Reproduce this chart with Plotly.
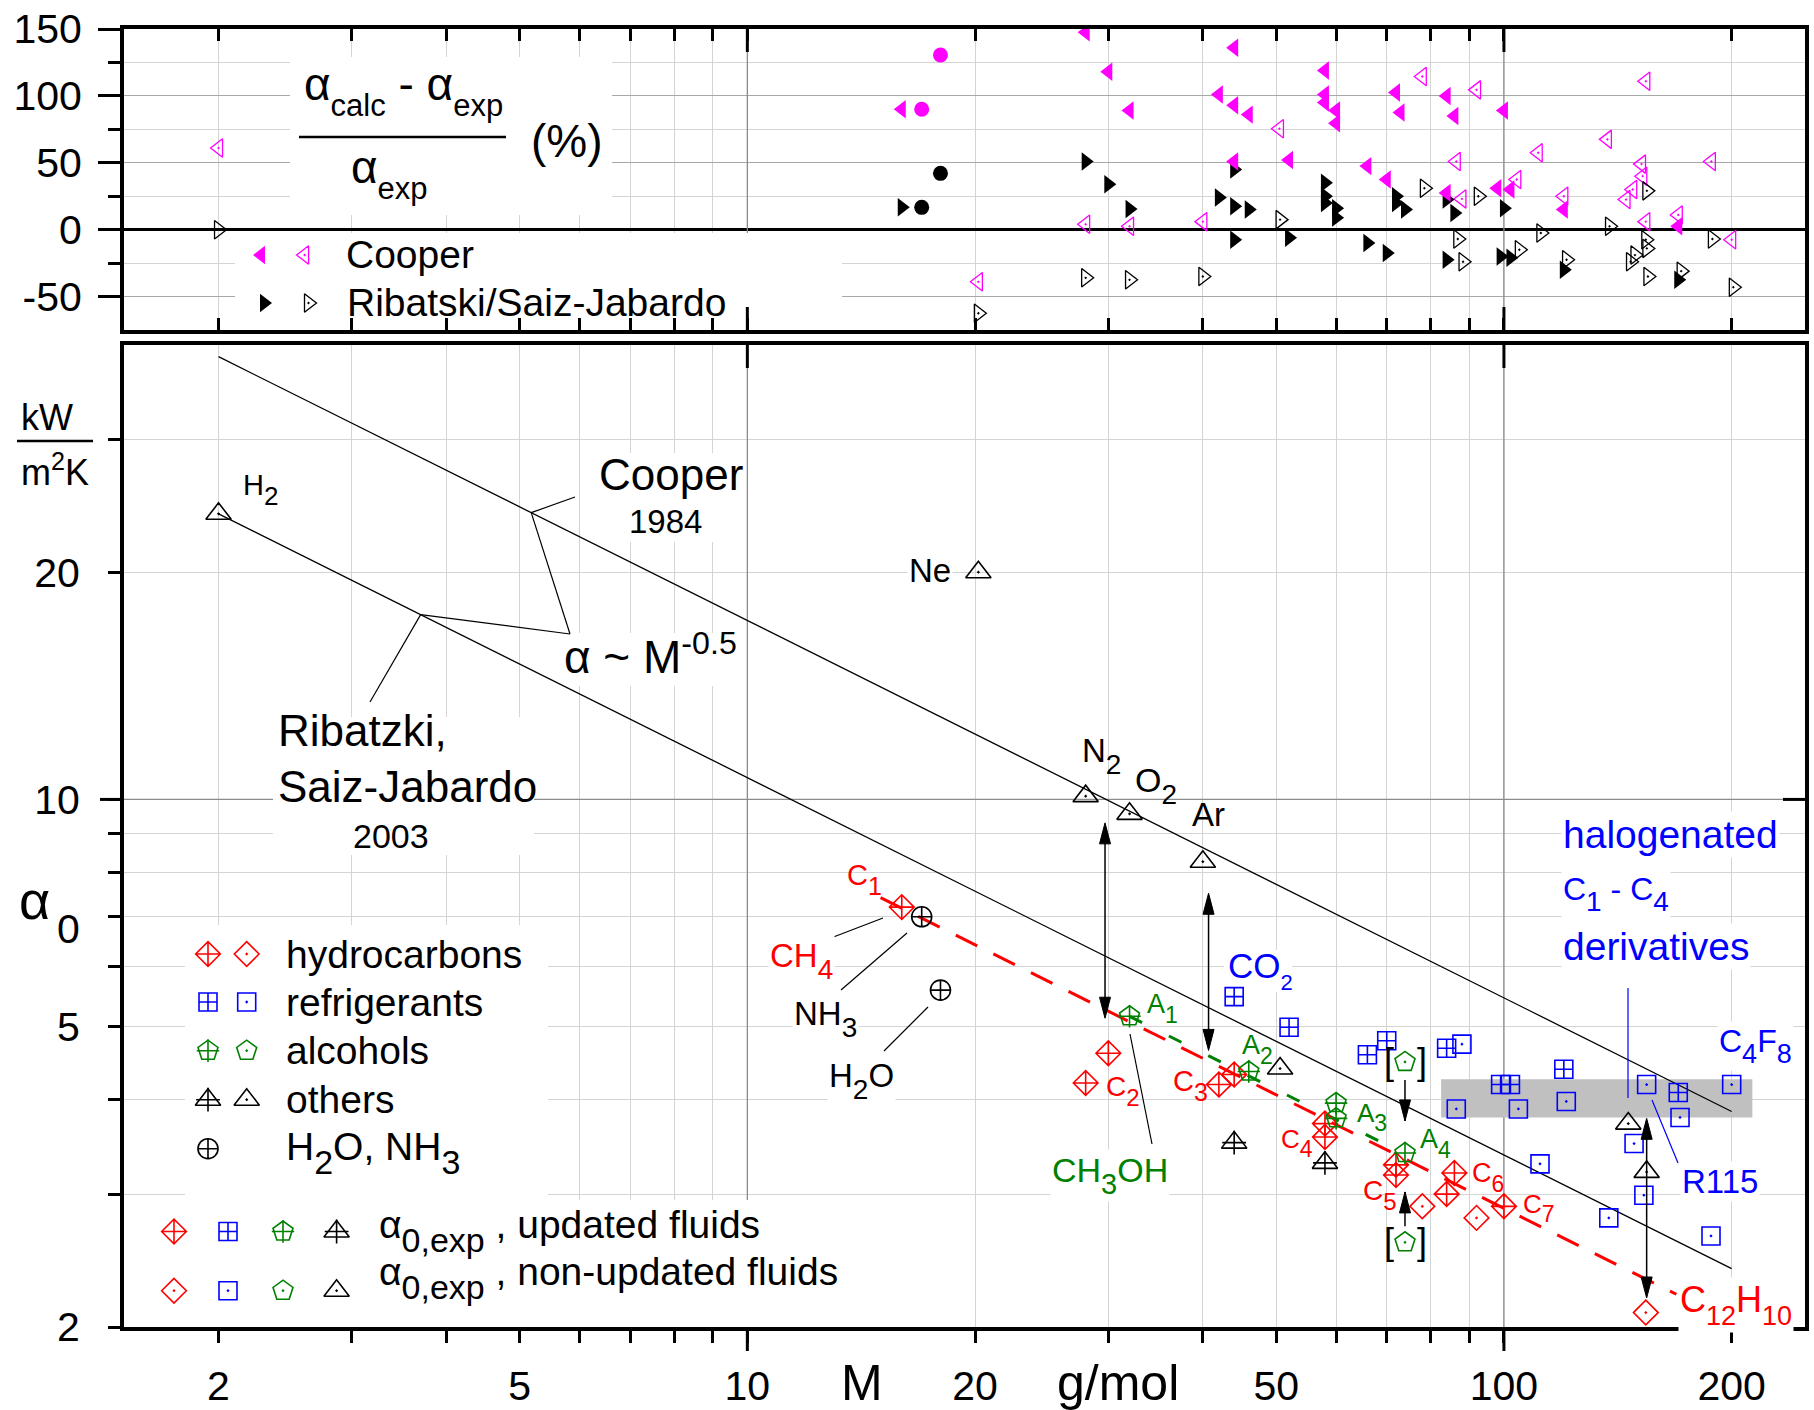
import numpy as np
import plotly.graph_objects as go

W, H = 1814, 1410
FONT = "Liberation Sans, Arial, Helvetica, sans-serif"
RED, BLUE, GREEN, MAG, BLK = "#ff0000", "#0000ff", "#008000", "#ff00ff", "#000000"
LIGHT, MID, DARK, BAND = "#d4d4d4", "#a8a8a8", "#8c8c8c", "#c0c0c0"

# ---------------- ticks ----------------
x_ticks = [2, 3, 4, 5, 6, 7, 8, 9, 10, 20, 30, 40, 50, 60, 70, 80, 90, 100, 200]
x_labels = ["2", "", "", "5", "", "", "", "", "10", "20", "", "", "50", "", "", "", "", "100", "200"]
yb_ticks = [2, 3, 4, 5, 6, 7, 8, 9, 10, 20, 30]
yb_labels = ["2", "", "", "5", "", "", "", "", "10", "20", ""]
yt_ticks = [-50, 0, 50, 100, 150]
yt_labels = ["-50", "0", "50", "100", "150"]
yt_minor = [-25, 25, 75, 125]

# ---------------- lower panel data: alpha_0 (kW/m2K) vs M (g/mol) ----------------
hc_upd_M = [16, 28, 30, 42, 44, 58, 58, 72, 72, 84, 86, 100]
hc_upd_a = [7.20, 4.21, 4.61, 4.19, 4.32, 3.72, 3.57, 3.28, 3.18, 3.00, 3.20, 2.89]
hc_non_M = [78, 92, 154]
hc_non_a = [2.89, 2.79, 2.09]
rf_upd_M = [44, 52, 66, 70, 84, 99, 102, 120, 170]
rf_upd_a = [5.48, 4.99, 4.59, 4.79, 4.68, 4.19, 4.19, 4.39, 4.09]
rf_non_M = [86.5, 88, 104.5, 111.6, 120.9, 137.6, 148.6, 153.1, 154.4, 170.9, 187.8, 200]
rf_non_a = [3.89, 4.74, 3.89, 3.29, 3.98, 2.79, 3.50, 2.99, 4.19, 3.79, 2.64, 4.19]
al_upd_M = [32, 46, 60, 60, 74]
al_upd_a = [5.16, 4.36, 3.96, 3.78, 3.40]
al_non_M = [74, 74]
al_non_a = [4.49, 2.59]
ot_upd_M = [44, 58]
ot_upd_a = [3.51, 3.30]
ot_non_M = [2, 20.2, 28, 32, 40, 50.6, 146, 154.4]
ot_non_a = [23.9, 20.0, 10.1, 9.57, 8.27, 4.40, 3.72, 3.21]
wn_M = [17, 18]
wn_a = [6.99, 5.59]

# correlation lines (end points as read)
cooper_M, cooper_a = [2, 200], [38.6, 3.86]
ribat_M, ribat_a = [2, 200], [23.9, 2.39]
hc_fit_M, hc_fit_a = [15, 169], [7.41, 2.21]
al_fit_M, al_fit_a = [32, 74], [5.16, 3.39]

# arrows
arr2_M, arr2_hi, arr2_lo = [29.7, 40.7, 154.4], [9.31, 7.51, 3.78], [5.13, 4.65, 2.185]
arr1_M, arr1_from, arr1_to = [74, 74], [4.25, 2.72], [3.75, 3.02]

# halogenated C1-C4 band
band_M, band_a = [82.6, 213], [3.79, 4.26]

# ---------------- upper panel data: deviation (%) ----------------
coop_upd_M = [16, 28, 44, 30, 58, 42, 58, 72, 84, 32, 44, 46, 58, 60, 60, 73, 86, 100, 44, 52, 66, 70, 84, 98, 102, 120, 170]
coop_upd_v = [90, 147.5, 136, 118, 119, 101, 101, 102.5, 100, 89, 93, 86, 95, 89, 79.5, 87.5, 85, 89, 51, 52, 47.5, 37.5, 27.5, 31, 30, 15, 2.5]
rib_upd_M = [16, 28, 30, 32, 44, 42, 44, 46, 44, 52, 58, 58, 58, 60, 60, 66, 70, 72, 72, 74, 84, 86, 84, 100, 99, 102, 120, 170]
rib_upd_v = [16.7, 51, 34, 15.5, 45, 24, 17.5, 15, -7.5, -6, 35, 25, 20, 16, 9, -10, -17.5, 25, 20, 15, 22.5, 12.5, -22.5, 16, -20, -21, -30, -37.5]
coop_non_M = [2, 20.2, 28, 32, 40, 50.5, 78, 92, 86.5, 88, 104, 111, 137, 154, 152, 152.6, 148, 145, 154, 170, 188, 120, 200]
coop_non_v = [61, -39, 4, 2.5, 6, 75.5, 114.5, 104.5, 51, 23, 37.5, 57.5, 67.5, 111, 49, 40, 30, 22.5, 6, 11, 51, 25, -7.5]
rib_non_M = [2, 20.2, 28, 32, 40, 50.6, 78.5, 92.5, 86.9, 88.3, 104.8, 111.9, 121, 137.9, 154.5, 154, 154.5, 147, 149, 155, 171.5, 188.6, 201]
rib_non_v = [0, -62.5, -36, -37.5, -35, 7.5, 31, 25, -7, -24, -15, -2.5, -22.5, 2.5, 29, -7.5, -14, -24, -19, -35, -31, -7, -43]
wn_coop_v = [90, 130.6]
wn_rib_v = [16.7, 42.1]

# ---------------- geometry helpers ----------------
XL, XR = np.log10(1.5), np.log10(250)
YL2, YH2 = np.log10(2), np.log10(40)
PXL, PXR = 124, 1805
PYT1, PYB1 = 29, 330
PYT2, PYB2 = 345, 1327


def px_x(m):
    return PXL + (np.log10(m) - XL) / (XR - XL) * (PXR - PXL)


def px_y2(a):
    return PYB2 - (np.log10(a) - YL2) / (YH2 - YL2) * (PYB2 - PYT2)


def dx(px):
    return 10 ** (XL + (px - PXL) / (PXR - PXL) * (XR - XL))


def dy2(py):
    return 10 ** (YL2 + (PYB2 - py) / (PYB2 - PYT2) * (YH2 - YL2))


def dy1(py):
    return -75 + (PYB1 - py) / (PYB1 - PYT1) * 225


def on_line(Ms, As, m):
    s = np.log(As[1] / As[0]) / np.log(Ms[1] / Ms[0])
    return As[0] * (m / Ms[0]) ** s


fig = go.Figure()


def scat(x, y, xa, ya, symbol, color, size, lw=1.6):
    fig.add_trace(go.Scatter(x=x, y=y, xaxis=xa, yaxis=ya, mode="markers", showlegend=False,
                             hoverinfo="skip",
                             marker=dict(symbol=symbol, size=size, color=color,
                                         line=dict(color=color, width=lw))))


def line(x, y, color, width, dash="solid"):
    fig.add_trace(go.Scatter(x=x, y=y, xaxis="x2", yaxis="y2", mode="lines", showlegend=False,
                             hoverinfo="skip", line=dict(color=color, width=width, dash=dash)))


# ---------------- upper panel traces ----------------
scat(coop_non_M, coop_non_v, "x", "y", "triangle-left-open-dot", MAG, 16, 1.3)
scat(rib_non_M, rib_non_v, "x", "y", "triangle-right-open-dot", BLK, 16, 1.3)
scat(rib_upd_M, rib_upd_v, "x", "y", "triangle-right", BLK, 16, 0)
scat(coop_upd_M, coop_upd_v, "x", "y", "triangle-left", MAG, 16, 0)
scat(wn_M, wn_coop_v, "x", "y", "circle", MAG, 15, 0)
scat(wn_M, wn_rib_v, "x", "y", "circle", BLK, 15, 0)

# ---------------- lower panel traces ----------------
line(cooper_M, cooper_a, BLK, 1.3)
line(ribat_M, ribat_a, BLK, 1.3)
line(hc_fit_M, hc_fit_a, RED, 3, "24px,18px")
line(al_fit_M, al_fit_a, GREEN, 3, "14px,30px")

scat(hc_upd_M, hc_upd_a, "x2", "y2", "diamond-cross-open", RED, 19)
scat(hc_non_M, hc_non_a, "x2", "y2", "diamond-open-dot", RED, 19)
scat(rf_upd_M, rf_upd_a, "x2", "y2", "square-cross-open", BLUE, 18)
scat(rf_non_M, rf_non_a, "x2", "y2", "square-open-dot", BLUE, 18)
scat(al_upd_M, al_upd_a, "x2", "y2", "pentagon-open", GREEN, 21)
scat(al_upd_M, al_upd_a, "x2", "y2", "cross-thin-open", GREEN, 16)
scat(al_non_M, al_non_a, "x2", "y2", "pentagon-open-dot", GREEN, 21)
scat(ot_upd_M, ot_upd_a, "x2", "y2", "triangle-up-open", BLK, 22)
scat(ot_upd_M, ot_upd_a, "x2", "y2", "cross-thin-open", BLK, 17)
scat(ot_non_M, ot_non_a, "x2", "y2", "triangle-up-open-dot", BLK, 22)
scat(wn_M, wn_a, "x2", "y2", "circle-cross-open", BLK, 20)


# ---------------- legend glyphs (canvas axes in pixels) ----------------
def lg(xs, ys, symbol, color, size, lw=1.6):
    scat(xs, ys, "x5", "y5", symbol, color, size, lw)


lg([261], [255], "triangle-left", MAG, 16, 0)
lg([304.6], [255], "triangle-left-open-dot", MAG, 16, 1.3)
lg([264], [303], "triangle-right", BLK, 16, 0)
lg([308.5], [303], "triangle-right-open-dot", BLK, 16, 1.3)

lg([208, 174], [954, 1231.5], "diamond-cross-open", RED, 19)
lg([246.7, 174], [954, 1290.7], "diamond-open-dot", RED, 19)
lg([208, 228], [1002, 1231.5], "square-cross-open", BLUE, 18)
lg([246.7, 228], [1002, 1290.7], "square-open-dot", BLUE, 18)
lg([208, 283], [1050.7, 1231.5], "pentagon-open", GREEN, 21)
lg([208, 283], [1050.7, 1231.5], "cross-thin-open", GREEN, 16)
lg([246.7, 283], [1050.7, 1290.7], "pentagon-open-dot", GREEN, 21)
lg([208, 336.6], [1099.7, 1231.5], "triangle-up-open", BLK, 22)
lg([208, 336.6], [1099.7, 1231.5], "cross-thin-open", BLK, 17)
lg([246.7, 336.6], [1099.7, 1290.7], "triangle-up-open-dot", BLK, 22)
lg([208], [1148.7], "circle-cross-open", BLK, 20)

# ---------------- shapes ----------------
shapes = []


def dline(xr, yr, x0, y0, x1, y1, color, width):
    shapes.append(dict(type="line", xref=xr, yref=yr, x0=x0, y0=y0, x1=x1, y1=y1,
                       line=dict(color=color, width=width), layer="between"))


def wbox(xr, yr, x0, x1, y0, y1, color="white"):
    shapes.append(dict(type="rect", xref=xr, yref=yr, x0=x0, x1=x1, y0=y0, y1=y1,
                       fillcolor=color, line=dict(width=0), layer="between"))


for m in [10, 100]:
    dline("x", "y", m, -75, m, 150, DARK, 1.3)
    dline("x2", "y2", m, 2, m, 40, DARK, 1.3)
dline("x2", "y2", 1.5, 10, 250, 10, DARK, 1.3)

# white label / legend boxes
wbox("x", "y", dx(290), dx(612), dy1(215), dy1(57))
wbox("x", "y", dx(235), dx(842), dy1(330), dy1(233))
wbox("x2", "y2", dx(185), dx(548), dy2(1200), dy2(925))
wbox("x2", "y2", dx(124), dx(845), dy2(1327), dy2(1200))
wbox("x2", "y2", dx(273), dx(534), dy2(855), dy2(717))
wbox("x2", "y2", dx(593), dx(743), dy2(542), dy2(453))
wbox("x2", "y2", dx(557), dx(742), dy2(686), dy2(633))
wbox("x2", "y2", dx(1224), dx(1292), dy2(992), dy2(950))
# grey band
wbox("x2", "y2", band_M[0], band_M[1], band_a[0], band_a[1], BAND)


def pl(x0, y0, x1, y1, color=BLK, width=1.2):
    shapes.append(dict(type="line", xref="paper", yref="paper", x0=x0 / W, y0=1 - y0 / H,
                       x1=x1 / W, y1=1 - y1 / H, line=dict(color=color, width=width), layer="above"))


def ahead(x, y, up):
    L, hw = 21, 5.5
    by = y + L if up else y - L
    path = f"M{x / W},{1 - y / H} L{(x - hw) / W},{1 - by / H} L{(x + hw) / W},{1 - by / H} Z"
    shapes.append(dict(type="path", xref="paper", yref="paper", path=path, fillcolor=BLK,
                       line=dict(color=BLK, width=1), layer="above"))


for m, hi, lo in zip(arr2_M, arr2_hi, arr2_lo):
    x = px_x(m)
    pl(x, px_y2(hi) + 5, x, px_y2(lo) - 5, width=1.5)
    ahead(x, px_y2(hi), True)
    ahead(x, px_y2(lo), False)
for m, a0, a1 in zip(arr1_M, arr1_from, arr1_to):
    x = px_x(m)
    pl(x, px_y2(a0), x, px_y2(a1), width=1.5)
    ahead(x, px_y2(a1), a1 > a0)

# long ticks at 10 and 100
for m in [10, 100]:
    x = px_x(m)
    pl(x, PYT1, x, PYT1 + 23, width=3)
    pl(x, PYB1, x, PYB1 - 23, width=3)
    pl(x, PYT2, x, PYT2 + 23, width=3)
    pl(x, PYB2, x, PYB2 + 24, width=3)
y10 = px_y2(10)
pl(PXL, y10, PXL - 24, y10, width=3)
pl(PXR, y10, PXR - 22, y10, width=3)

# pointer lines
mc, mr = 5.18, 3.70
pc = (px_x(mc), px_y2(on_line(cooper_M, cooper_a, mc)))
pr = (px_x(mr), px_y2(on_line(ribat_M, ribat_a, mr)))
pts = [(575, 497), pc, (570, 634), pr, (370, 702)]
for (xa, ya), (xb, yb) in zip(pts[:-1], pts[1:]):
    pl(xa, ya, xb, yb)
pl(823, 941, 883, 918)
pl(841, 990, 907, 933)
pl(884, 1051, 928, 1007)
pl(1130, 1034, 1152, 1144)
pl(1652, 1100, 1678, 1163, BLUE)
pl(1628, 988, 1628, 1098, BLUE)
pl(299, 137, 506, 137, width=2.5)
pl(17, 441, 93, 441, width=2.5)

# ---------------- annotations ----------------
ann = []


def S(t, s):
    return f'<sub><sub><span style="font-size:{s}px">{t}</span></sub></sub>'


def T(s, x, yb, size, color=BLK, xanchor="left", sub=None, sup=False, bg=None):
    if sub:
        yc = yb - 0.274 * size + 0.106 * sub
    elif sup:
        yc = yb - 0.421 * size
    else:
        yc = yb - 0.3465 * size
    ann.append(dict(text=s, x=x / W, y=1 - yc / H, xref="paper", yref="paper", showarrow=False,
                    xanchor=xanchor, yanchor="middle",
                    font=dict(family=FONT, size=size, color=color),
                    bgcolor=bg if bg else "rgba(0,0,0,0)", borderpad=1))


# upper panel
T("α" + S("calc", 31) + " - α" + S("exp", 31), 403, 100, 46, xanchor="center", sub=31)
T("α" + S("exp", 31), 389, 183, 46, xanchor="center", sub=31)
T("(%)", 567, 157, 46, xanchor="center")
T("Cooper", 344, 268, 39)
T("Ribatski/Saiz-Jabardo", 345, 316, 39)

# lower panel labels
T("H" + S("2", 26), 241, 495, 29, sub=26, bg="white")
T("Ne", 907, 582, 33, bg="white")
T("N" + S("2", 28), 1080, 762, 33, sub=28)
T("O" + S("2", 28), 1133, 792, 34, sub=28)
T("Ar", 1190, 826, 33)
T("C" + S("1", 25), 845, 885, 29, RED, sub=25)
T("CH" + S("4", 28), 768, 967, 33, RED, sub=28, bg="white")
T("NH" + S("3", 28), 792, 1025, 33, sub=28, bg="white")
T("H" + S("2", 28) + "O", 827, 1087, 33, sub=28, bg="white")
T("CO" + S("2", 22), 1226, 978, 35, BLUE, sub=22)
T("C" + S("2", 24), 1104, 1096, 28, RED, sub=24)
T("A" + S("1", 23), 1145, 1013, 27, GREEN, sub=23)
T("CH" + S("3", 29) + "OH", 1050, 1182, 34, GREEN, sub=29, bg="white")
T("C" + S("3", 25), 1171, 1091, 29, RED, sub=25)
T("A" + S("2", 23), 1240, 1054, 27, GREEN, sub=23)
T("A" + S("3", 23), 1355, 1122, 26, GREEN, sub=23)
T("C" + S("4", 23), 1279, 1148, 26, RED, sub=23)
T("A" + S("4", 23), 1418, 1148, 27, GREEN, sub=23)
T("C" + S("5", 24), 1361, 1200, 28, RED, sub=24)
T("C" + S("6", 23), 1470, 1182, 27, RED, sub=23)
T("C" + S("7", 23), 1521, 1213, 26, RED, sub=23)
T("C" + S("12", 27) + "H" + S("10", 27), 1678, 1312, 36, RED, sub=27, bg="white")
T("R115", 1680, 1193, 33, BLUE, bg="white")
T("C" + S("4", 27) + "F" + S("8", 27), 1717, 1052, 32, BLUE, sub=27, bg="white")
T("halogenated", 1561, 848, 39, BLUE, bg="white")
T("C" + S("1", 28) + " - C" + S("4", 28), 1561, 900, 32, BLUE, sub=28, bg="white")
T("derivatives", 1561, 960, 39, BLUE, bg="white")
T("[", 1382, 1074, 36)
T("]", 1415, 1074, 36)
T("[", 1382, 1254, 36)
T("]", 1415, 1254, 36)
T("Cooper", 597, 490, 44)
T("1984", 627, 533, 33)
T("α ~ M<sup>-0.5</sup>", 562, 673, 46, sup=True)
T("Ribatzki,", 276, 746, 44)
T("Saiz-Jabardo", 276, 802, 44)
T("2003", 351, 848, 34)
T("kW", 47, 430, 36, xanchor="center")
T("m<sup>2</sup>K", 55, 485, 36, xanchor="center", sup=True)
T("α", 17, 919, 54)
T("0", 55, 943, 41)
T("M", 839, 1400, 50)
T("g/mol", 1055, 1400, 50)

# legends
T("hydrocarbons", 284, 968, 39)
T("refrigerants", 284, 1016, 39)
T("alcohols", 284, 1064, 39)
T("others", 284, 1113, 39)
T("H" + S("2", 34) + "O, NH" + S("3", 34), 284, 1160, 39, sub=34)
T("α" + S("0,exp", 34) + " , updated fluids", 377, 1238, 39, sub=34)
T("α" + S("0,exp", 34) + " , non-updated fluids", 377, 1285, 39, sub=34)

# ---------------- layout ----------------
tickfont = dict(family=FONT, size=41, color=BLK)
xdom = [PXL / W, PXR / W]
dom1 = [1 - PYB1 / H, 1 - PYT1 / H]
dom2 = [1 - PYB2 / H, 1 - PYT2 / H]

fig.update_layout(
    template="none",
    width=W, height=H,
    margin=dict(l=0, r=0, t=0, b=0),
    paper_bgcolor="white", plot_bgcolor="rgba(0,0,0,0)",
    showlegend=False,
    font=dict(family=FONT, color=BLK),
    xaxis=dict(type="log", range=[XL, XR], domain=xdom, anchor="y", tickmode="array",
               tickvals=x_ticks, ticks="inside", ticklen=12, tickwidth=3, tickcolor=BLK,
               mirror="ticks", showline=True, linewidth=4, linecolor=BLK,
               showticklabels=False, showgrid=True, gridcolor=LIGHT, gridwidth=1,
               zeroline=False, automargin=False),
    yaxis=dict(range=[-75, 150], domain=dom1, anchor="x", tickmode="array",
               tickvals=yt_ticks, ticktext=yt_labels, ticks="outside", ticklen=22,
               tickwidth=3, tickcolor=BLK, showline=True, linewidth=4, linecolor=BLK,
               mirror=True, showgrid=True, gridcolor=MID, gridwidth=1,
               zeroline=True, zerolinecolor=BLK, zerolinewidth=3,
               minor=dict(tickvals=yt_minor, ticks="outside", ticklen=12, tickwidth=3,
                          tickcolor=BLK, showgrid=True, gridcolor=LIGHT, gridwidth=1),
               tickfont=tickfont, ticklabelstandoff=8, automargin=False),
    yaxis3=dict(overlaying="y", side="right", anchor="x", range=[-75, 150], tickmode="array",
                tickvals=yt_ticks, ticks="inside", ticklen=22, tickwidth=3, tickcolor=BLK,
                showticklabels=False, showgrid=False, zeroline=False, showline=False,
                minor=dict(tickvals=yt_minor, ticks="inside", ticklen=12, tickwidth=3,
                           tickcolor=BLK, showgrid=False)),
    xaxis2=dict(type="log", range=[XL, XR], domain=xdom, anchor="y2", tickmode="array",
                tickvals=x_ticks, ticktext=x_labels, ticks="outside", ticklen=12, tickwidth=3,
                tickcolor=BLK, mirror=True, showline=True, linewidth=4, linecolor=BLK,
                showgrid=True, gridcolor=LIGHT, gridwidth=1, zeroline=False,
                tickfont=tickfont, ticklabelstandoff=8, automargin=False),
    xaxis3=dict(type="log", overlaying="x2", side="top", anchor="y2", range=[XL, XR],
                tickmode="array", tickvals=x_ticks, ticks="inside", ticklen=12, tickwidth=3,
                tickcolor=BLK, showticklabels=False, showgrid=False, showline=False,
                zeroline=False),
    yaxis2=dict(type="log", range=[YL2, YH2], domain=dom2, anchor="x2", tickmode="array",
                tickvals=yb_ticks, ticktext=yb_labels, ticks="outside", ticklen=12,
                tickwidth=3, tickcolor=BLK, mirror=True, showline=True, linewidth=4,
                linecolor=BLK, showgrid=True, gridcolor=LIGHT, gridwidth=1, zeroline=False,
                tickfont=tickfont, ticklabelstandoff=20, automargin=False),
    yaxis4=dict(type="log", overlaying="y2", side="right", anchor="x2", range=[YL2, YH2],
                tickmode="array", tickvals=yb_ticks, ticks="inside", ticklen=12, tickwidth=3,
                tickcolor=BLK, showticklabels=False, showgrid=False, showline=False,
                zeroline=False),
    xaxis5=dict(domain=[0, 1], range=[0, W], anchor="y5", visible=False, fixedrange=True),
    yaxis5=dict(domain=[0, 1], range=[H, 0], anchor="x5", visible=False, fixedrange=True),
    shapes=shapes,
    annotations=ann,
)

fig.write_html("out.html")
